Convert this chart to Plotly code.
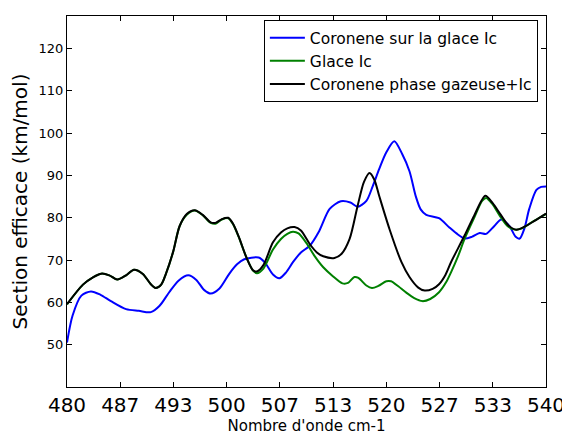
import plotly.graph_objects as go

# Coronene sur la glace Ic (blue)
blue_x = [480.0, 480.7, 481.8, 483.0, 484.2, 485.5, 487.4, 489.0, 490.5, 491.6,
          492.8, 494.0, 495.2, 496.2, 497.2, 498.0, 499.1, 500.3, 501.3, 502.2,
          504.0, 504.8, 505.8, 506.6, 507.4, 508.3, 509.3, 510.4, 511.6, 512.9,
          514.3, 515.5, 516.4, 517.5, 518.3, 519.1, 520.0, 521.0, 522.0, 522.9,
          523.7, 524.3, 525.0, 526.6, 527.9, 529.0, 529.8, 530.7, 531.7, 532.5,
          533.5, 534.4, 535.4, 536.2, 536.7, 537.3, 537.9, 538.8, 539.4, 540.0]
blue_y = [50.5, 56.9, 61.6, 62.6, 61.8, 60.3, 58.4, 58.0, 57.7, 59.2,
          62.4, 65.2, 66.4, 65.3, 62.9, 62.1, 63.3, 66.7, 69.0, 70.2,
          70.6, 69.4, 66.6, 65.7, 67.0, 69.5, 71.8, 73.4, 76.9, 82.1,
          83.9, 83.6, 82.6, 84.0, 87.5, 91.5, 95.5, 98.1, 95.0, 91.0,
          85.0, 82.0, 80.7, 79.9, 77.7, 76.0, 75.1, 75.5, 76.4, 76.2,
          78.0, 79.6, 78.1, 75.5, 75.1, 77.5, 82.1, 86.6, 87.3, 87.4]

# Glace Ic (green)
green_x = [480.0, 482.0, 483.3, 484.3, 485.3, 486.3, 487.4, 488.4, 489.5, 490.5,
           491.1, 491.8, 492.4, 493.3, 494.1, 495.0, 496.0, 497.0, 498.0, 498.6,
           499.4, 500.2, 500.8, 501.5, 502.5, 503.3, 503.8, 504.6, 505.8, 506.8,
           507.6, 508.3, 509.0, 510.0, 511.0, 512.1, 513.3, 514.5, 515.2, 516.0,
           516.5, 517.5, 518.2, 519.0, 520.0, 520.6, 521.5, 522.5, 523.5, 524.5,
           525.5, 526.6, 527.5, 528.1, 529.0, 529.8, 531.0, 532.0, 532.5, 533.3,
           534.2, 535.2, 536.1, 537.0, 538.0, 539.0, 540.0]
green_y = [59.5, 64.2, 66.0, 66.8, 66.4, 65.4, 66.4, 67.7, 66.7, 64.3,
           63.4, 64.2, 66.8, 72.0, 78.0, 80.7, 81.7, 80.6, 78.8, 78.6,
           79.6, 79.9, 78.5, 75.5, 70.5, 67.5, 66.9, 68.0, 72.5, 75.0,
           76.2, 76.7, 76.3, 74.0, 71.0, 68.3, 66.2, 64.5, 64.6, 66.0,
           65.8, 64.0, 63.4, 63.9, 65.0, 65.0, 63.8, 62.3, 61.0, 60.3,
           60.8, 62.4, 64.8, 67.1, 71.0, 75.0, 80.0, 84.0, 84.7, 83.2,
           80.5, 78.0, 77.2, 77.5, 78.7, 79.8, 80.9]

# Coronene phase gazeuse+Ic (black)
black_x = [480.0, 482.0, 483.3, 484.3, 485.3, 486.3, 487.4, 488.4, 489.5, 490.5,
           491.1, 491.8, 492.4, 493.3, 494.1, 495.0, 496.0, 497.0, 498.0, 498.6,
           499.4, 500.2, 500.8, 501.5, 502.5, 503.3, 503.8, 504.6, 505.8, 506.8,
           507.6, 508.5, 509.3, 510.4, 511.3, 512.1, 513.5, 514.4, 515.4, 516.4,
           517.2, 517.9, 518.5, 519.1, 520.4, 521.9, 522.9, 524.0, 524.8, 525.8,
           526.6, 527.4, 528.1, 529.8, 531.0, 532.4, 533.3, 534.3, 535.3, 536.3,
           537.3, 538.5, 540.0]
black_y = [59.6, 64.2, 66.0, 66.8, 66.4, 65.4, 66.4, 67.7, 66.7, 64.3,
           63.4, 64.2, 66.8, 72.0, 78.0, 80.9, 81.8, 80.7, 78.9, 78.8,
           79.7, 80.0, 78.6, 75.6, 70.5, 67.6, 67.3, 68.8, 74.2, 76.5,
           77.5, 77.8, 77.0, 73.8, 71.8, 70.9, 70.5, 71.5, 75.0, 82.8,
           88.5, 90.6, 89.0, 85.2, 77.3, 69.5, 66.0, 63.5, 62.8, 63.2,
           64.3, 66.5, 69.5, 75.8, 80.5, 85.2, 83.5, 80.8, 78.2, 77.2,
           77.9, 79.2, 81.0]

x_tick_labels = ["480", "487", "493", "500", "507", "513", "520", "527", "533", "540"]
y_ticks = [50, 60, 70, 80, 90, 100, 110, 120]

x_tick_vals = [480 + i * 60 / 9 for i in range(len(x_tick_labels))]

fig = go.Figure()
for name, xs, ys, col in [
    ("Coronene sur la glace Ic", blue_x, blue_y, "#0000ff"),
    ("Glace Ic", green_x, green_y, "#008000"),
    ("Coronene phase gazeuse+Ic", black_x, black_y, "#000000"),
]:
    fig.add_trace(go.Scatter(x=xs, y=ys, mode="lines", name=name,
                             line=dict(color=col, width=2, shape="spline", smoothing=0.8)))

# the page body adds an 8px offset, so the figure is 8px smaller on each side
fig.update_layout(
    width=562, height=427,
    margin=dict(l=59, r=24, t=8, b=48),
    paper_bgcolor="white", plot_bgcolor="white",
    font=dict(family="DejaVu Sans", color="black"),
    showlegend=True,
    legend=dict(x=0.411, y=0.989, xanchor="left", yanchor="top",
                bgcolor="white", bordercolor="black", borderwidth=1,
                itemwidth=35,
                font=dict(size=15.5, family="DejaVu Sans"), tracegroupgap=0),
    xaxis=dict(range=[480, 540], tickvals=x_tick_vals, ticktext=x_tick_labels,
               ticks="inside", ticklen=5, tickcolor="black",
               showline=True, linecolor="black", linewidth=1, mirror="ticks",
               showgrid=False, zeroline=False, automargin=False,
               tickfont=dict(size=20, family="DejaVu Sans"),
               title=dict(text="Nombre d'onde cm-1", font=dict(size=15), standoff=6)),
    yaxis=dict(range=[40, 127.7], tickvals=y_ticks,
               ticks="inside", ticklen=5, tickcolor="black",
               showline=True, linecolor="black", linewidth=1, mirror="ticks",
               showgrid=False, zeroline=False, automargin=False,
               tickfont=dict(size=13, family="DejaVu Sans"),
               title=dict(text="Section efficace (km/mol)", font=dict(size=20), standoff=6)),
)

fig.write_html("out.html")
